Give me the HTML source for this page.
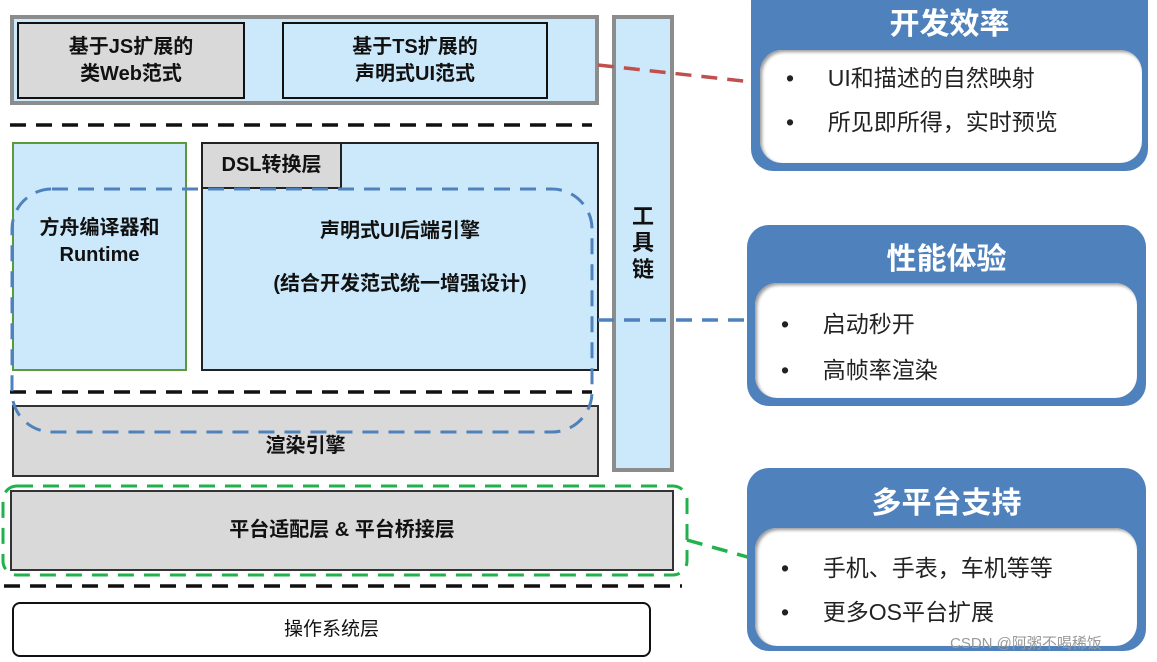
<!DOCTYPE html>
<html><head><meta charset="utf-8"><style>
body{margin:0;width:1157px;height:662px;background:#fff;position:relative;overflow:hidden;font-family:"Liberation Sans","Noto Sans CJK SC",sans-serif;}
.b{position:absolute;box-sizing:border-box;display:flex;align-items:center;justify-content:center;text-align:center;font-weight:bold;font-size:20px;color:#111;line-height:1.35;}
.p{position:absolute;box-sizing:border-box;background:#4f81bd;border-radius:22px;}
.p .t{position:absolute;left:0;right:0;text-align:center;color:#fff;font-weight:bold;font-size:30px;}
.p .in{position:absolute;background:#fff;border-radius:22px;box-shadow:inset 2px 2px 3px #999;font-size:23px;color:#222;}
.li{position:absolute;left:0;white-space:nowrap}
.li span{display:inline-block;width:50px;text-align:center;padding-left:5px}
</style></head><body>
<div class="b" style="left:10px;top:15px;width:589px;height:90px;background:#cce9fb;border:4px solid #8c8c8c"></div>
<div class="b" style="left:17px;top:22px;width:228px;height:77px;background:#d9d9d9;border:2px solid #111">基于JS扩展的<br>类Web范式</div>
<div class="b" style="left:282px;top:22px;width:266px;height:77px;background:#cce9fb;border:2px solid #111">基于TS扩展的<br>声明式UI范式</div>
<div class="b" style="left:612px;top:15px;width:62px;height:457px;background:#cce9fb;border:4px solid #8c8c8c;font-size:22px;line-height:1.2">工<br>具<br>链</div>
<div class="b" style="left:12px;top:142px;width:175px;height:229px;background:#cce9fb;border:2px solid #5a9a3a;padding-bottom:30px">方舟编译器和<br>Runtime</div>
<div class="b" style="left:201px;top:142px;width:398px;height:229px;background:#cce9fb;border:2px solid #222;display:block;padding-top:74px">声明式UI后端引擎<br><div style="height:26px"></div>(结合开发范式统一增强设计)</div>
<div class="b" style="left:201px;top:142px;width:141px;height:47px;background:#d9d9d9;border:2px solid #222">DSL转换层</div>
<div class="b" style="left:12px;top:405px;width:587px;height:72px;background:#d9d9d9;border:2px solid #333;padding-top:10px">渲染引擎</div>
<div class="b" style="left:10px;top:490px;width:664px;height:81px;background:#d9d9d9;border:2px solid #333">平台适配层 &amp; 平台桥接层</div>
<div class="b" style="left:12px;top:602px;width:639px;height:55px;background:#fff;border:2px solid #111;border-radius:8px;font-weight:normal;font-size:19px">操作系统层</div>
<svg style="position:absolute;left:0;top:0" width="1157" height="662">
<g fill="none" stroke-width="3.5" stroke-dasharray="16,10">
<line x1="10" y1="125" x2="592" y2="125" stroke="#111"/>
<line x1="10" y1="392" x2="592" y2="392" stroke="#111"/>
<line x1="4" y1="586" x2="682" y2="586" stroke="#111"/>
<rect x="12" y="189" width="580" height="243" rx="40" stroke="#4f81bd" stroke-width="3"/>
<rect x="3" y="486" width="684" height="89" rx="14" stroke="#22b14c" stroke-width="3"/>
<line x1="598" y1="65" x2="752" y2="82" stroke="#c0504d"/>
<line x1="598" y1="320" x2="756" y2="320" stroke="#4f81bd"/>
<line x1="687" y1="540" x2="751" y2="558" stroke="#22b14c"/>
</g></svg>
<div class="p" style="left:751px;top:-20px;width:397px;height:191px">
<div class="t" style="top:19px">开发效率</div>
<div class="in" style="left:9px;top:70px;width:382px;height:113px">
<div class="li" style="top:9px"><span>•</span>&nbsp;&nbsp;UI和描述的自然映射</div>
<div class="li" style="top:53px"><span>•</span>&nbsp;&nbsp;所见即所得，实时预览</div></div></div>
<div class="p" style="left:747px;top:225px;width:399px;height:181px">
<div class="t" style="top:9px">性能体验</div>
<div class="in" style="left:8px;top:58px;width:382px;height:115px">
<div class="li" style="top:22px"><span>•</span>&nbsp;&nbsp;启动秒开</div>
<div class="li" style="top:68px"><span>•</span>&nbsp;&nbsp;高帧率渲染</div></div></div>
<div class="p" style="left:747px;top:468px;width:399px;height:183px">
<div class="t" style="top:10px">多平台支持</div>
<div class="in" style="left:8px;top:60px;width:382px;height:118px">
<div class="li" style="top:21px"><span>•</span>&nbsp;&nbsp;手机、手表，车机等等</div>
<div class="li" style="top:65px"><span>•</span>&nbsp;&nbsp;更多OS平台扩展</div></div></div>
<div style="position:absolute;left:950px;top:632px;font-size:15px;color:#999">CSDN @阿粥不喝稀饭</div>
</body></html>
